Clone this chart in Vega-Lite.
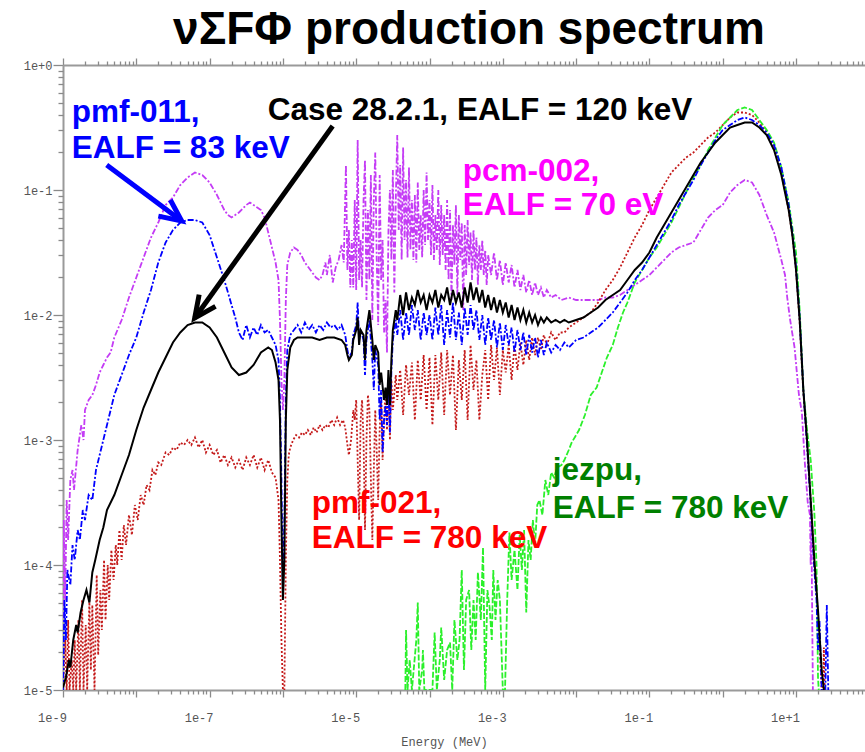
{
  "$schema": "https://vega.github.io/schema/vega-lite/v6.json",
  "width": 802,
  "height": 625,
  "autosize": {"type": "none"},
  "padding": {"left": 63, "top": 65, "right": 0, "bottom": 62},
  "background": "white",
  "title": {"text": "νΣFΦ production spectrum", "font": "Liberation Sans", "fontSize": 46, "fontWeight": "bold", "color": "#000000", "anchor": "middle", "offset": 3, "dx": 5},
  "config": {
    "view": {"stroke": null},
    "axis": {"grid": false, "domainColor": "#9a9a9a", "domainWidth": 2, "tickColor": "#8a8a8a", "tickWidth": 1.3, "labelFont": "Liberation Mono", "labelFontSize": 12, "labelColor": "#555555", "labelOverlap": false, "labelFlush": false}
  },
  "datasets": {
    "case2821": [
      {"E":1e-9,"v":1.047e-5},{"E":1.096e-9,"v":1.259e-5},{"E":1.202e-9,"v":1.738e-5},{"E":1.259e-9,"v":1.514e-5},{"E":1.380e-9,"v":2.512e-5},{"E":1.514e-9,"v":3.311e-5},{"E":1.585e-9,"v":2.884e-5},{"E":1.738e-9,"v":4.169e-5},{"E":1.905e-9,"v":5.248e-5},{"E":2.089e-9,"v":6.310e-5},{"E":2.291e-9,"v":5.012e-5},{"E":2.512e-9,"v":8.710e-5},{"E":2.754e-9,"v":1.096e-4},{"E":3.162e-9,"v":1.585e-4},{"E":3.548e-9,"v":1.995e-4},{"E":3.981e-9,"v":2.754e-4},{"E":5.012e-9,"v":3.631e-4},{"E":6.310e-9,"v":5.248e-4},{"E":7.943e-9,"v":7.586e-4},
      {"E":1e-8,"v":1.202e-3},{"E":1.259e-8,"v":1.820e-3},{"E":1.585e-8,"v":2.512e-3},{"E":1.995e-8,"v":3.467e-3},{"E":2.512e-8,"v":4.571e-3},{"E":3.162e-8,"v":6.026e-3},{"E":3.981e-8,"v":7.244e-3},{"E":5.012e-8,"v":8.318e-3},{"E":6.310e-8,"v":8.710e-3},{"E":7.943e-8,"v":8.710e-3},
      {"E":1e-7,"v":7.943e-3},{"E":1.259e-7,"v":6.607e-3},{"E":1.585e-7,"v":5.012e-3},{"E":1.995e-7,"v":3.802e-3},{"E":2.512e-7,"v":3.311e-3},{"E":3.162e-7,"v":3.467e-3},{"E":3.981e-7,"v":3.981e-3},{"E":5.012e-7,"v":5.012e-3},{"E":6.310e-7,"v":5.495e-3},{"E":7.079e-7,"v":5.248e-3},{"E":7.943e-7,"v":4.169e-3},{"E":8.710e-7,"v":3.020e-3},{"E":9.120e-7,"v":1.445e-3},{"E":9.550e-7,"v":2.291e-4},
      {"E":1e-6,"v":5.248e-5},{"E":1.047e-6,"v":1.096e-4},{"E":1.096e-6,"v":1.445e-3},{"E":1.148e-6,"v":3.631e-3},{"E":1.259e-6,"v":5.495e-3},{"E":1.413e-6,"v":6.310e-3},{"E":1.585e-6,"v":6.607e-3},{"E":1.995e-6,"v":6.607e-3},{"E":2.512e-6,"v":6.607e-3},{"E":3.162e-6,"v":6.310e-3},{"E":3.981e-6,"v":6.607e-3},{"E":5.012e-6,"v":6.607e-3},{"E":6.310e-6,"v":6.310e-3},{"E":7.079e-6,"v":5.754e-3},{"E":7.586e-6,"v":4.786e-3},{"E":7.943e-6,"v":4.365e-3},{"E":8.710e-6,"v":4.786e-3},{"E":9.120e-6,"v":6.310e-3},
      {"E":1e-5,"v":7.586e-3},{"E":1.047e-5,"v":9.550e-3},{"E":1.096e-5,"v":5.754e-3},{"E":1.148e-5,"v":7.586e-3},{"E":1.259e-5,"v":6.918e-3},{"E":1.318e-5,"v":4.365e-3},{"E":1.380e-5,"v":7.586e-3},{"E":1.514e-5,"v":1.096e-2},{"E":1.660e-5,"v":6.310e-3},{"E":1.738e-5,"v":4.365e-3},{"E":1.820e-5,"v":5.754e-3},{"E":1.995e-5,"v":5.012e-3},{"E":2.089e-5,"v":2.754e-3},{"E":2.188e-5,"v":3.467e-3},{"E":2.399e-5,"v":2.089e-3},{"E":2.512e-5,"v":2.630e-3},{"E":2.630e-5,"v":1.905e-3},{"E":2.754e-5,"v":3.631e-3},{"E":2.884e-5,"v":1.905e-3},{"E":3.020e-5,"v":4.365e-3},{"E":3.162e-5,"v":7.586e-3},{"E":3.467e-5,"v":1.096e-2},{"E":3.631e-5,"v":9.120e-3},{"E":3.981e-5,"v":1.445e-2},{"E":4.365e-5,"v":1e-2},{"E":4.786e-5,"v":1.514e-2},{"E":5.248e-5,"v":1.096e-2},{"E":5.754e-5,"v":1.380e-2},{"E":6.310e-5,"v":1.202e-2},{"E":6.918e-5,"v":1.585e-2},{"E":7.586e-5,"v":1.259e-2},{"E":8.318e-5,"v":1.445e-2},{"E":9.120e-5,"v":1.096e-2},
      {"E":1e-4,"v":1.445e-2},{"E":1.096e-4,"v":1.259e-2},{"E":1.202e-4,"v":1.585e-2},{"E":1.318e-4,"v":1.148e-2},{"E":1.445e-4,"v":1.445e-2},{"E":1.585e-4,"v":1.318e-2},{"E":1.738e-4,"v":1.660e-2},{"E":1.905e-4,"v":1.202e-2},{"E":2.089e-4,"v":1.585e-2},{"E":2.291e-4,"v":1.259e-2},{"E":2.512e-4,"v":1.514e-2},{"E":2.754e-4,"v":1.148e-2},{"E":3.020e-4,"v":1.660e-2},{"E":3.311e-4,"v":1.259e-2},{"E":3.631e-4,"v":1.820e-2},{"E":3.981e-4,"v":1.318e-2},{"E":4.365e-4,"v":1.660e-2},{"E":4.786e-4,"v":1.259e-2},{"E":5.248e-4,"v":1.585e-2},{"E":5.754e-4,"v":1.148e-2},{"E":6.310e-4,"v":1.445e-2},{"E":6.918e-4,"v":1.096e-2},{"E":7.586e-4,"v":1.380e-2},{"E":8.318e-4,"v":1.047e-2},{"E":9.120e-4,"v":1.318e-2},
      {"E":1e-3,"v":1.047e-2},{"E":1.096e-3,"v":1.259e-2},{"E":1.202e-3,"v":9.550e-3},{"E":1.318e-3,"v":1.202e-2},{"E":1.445e-3,"v":9.120e-3},{"E":1.585e-3,"v":1.148e-2},{"E":1.738e-3,"v":9.120e-3},{"E":1.905e-3,"v":1.096e-2},{"E":2.089e-3,"v":8.710e-3},{"E":2.291e-3,"v":1.047e-2},{"E":2.512e-3,"v":8.710e-3},{"E":2.754e-3,"v":1e-2},{"E":3.020e-3,"v":8.318e-3},{"E":3.311e-3,"v":9.550e-3},{"E":3.631e-3,"v":8.710e-3},{"E":3.981e-3,"v":9.550e-3},{"E":4.571e-3,"v":8.710e-3},{"E":5.248e-3,"v":9.120e-3},{"E":6.026e-3,"v":8.710e-3},{"E":6.918e-3,"v":9.120e-3},{"E":7.943e-3,"v":8.710e-3},
      {"E":1e-2,"v":9.120e-3},{"E":1.259e-2,"v":9.550e-3},{"E":1.585e-2,"v":1.047e-2},{"E":1.995e-2,"v":1.148e-2},{"E":2.512e-2,"v":1.318e-2},{"E":3.162e-2,"v":1.445e-2},{"E":3.981e-2,"v":1.585e-2},{"E":5.012e-2,"v":1.905e-2},{"E":6.310e-2,"v":2.291e-2},{"E":7.943e-2,"v":2.630e-2},
      {"E":0.1,"v":3.162e-2},{"E":0.1259,"v":4.169e-2},{"E":0.1585,"v":5.248e-2},{"E":0.1995,"v":6.607e-2},{"E":0.2512,"v":8.318e-2},{"E":0.3162,"v":0.1047},{"E":0.3981,"v":0.1318},{"E":0.5012,"v":0.166},{"E":0.631,"v":0.1995},{"E":0.7943,"v":0.2399},
      {"E":1,"v":0.2754},{"E":1.259,"v":0.3162},{"E":1.585,"v":0.3311},{"E":1.995,"v":0.3467},{"E":2.512,"v":0.3467},{"E":3.162,"v":0.3162},{"E":3.981,"v":0.2754},{"E":5.012,"v":0.2089},{"E":6.31,"v":0.1318},{"E":7.943,"v":0.06918},{"E":8.913,"v":0.04365},
      {"E":10,"v":0.02291},{"E":11.22,"v":0.00912},{"E":12.59,"v":0.002512},{"E":14.13,"v":0.001},{"E":15.85,"v":0.0003311},{"E":17.78,"v":0.0001096},{"E":19.95,"v":4.365e-5},{"E":22.39,"v":1.445e-5},{"E":23.99,"v":1e-5}
    ],
    "pmf011": [
      {"E":1e-9,"v":1e-5},{"E":1.047e-9,"v":5.248e-5},{"E":1.096e-9,"v":2.512e-5},{"E":1.148e-9,"v":9.120e-5},{"E":1.259e-9,"v":6.918e-5},{"E":1.349e-9,"v":1.445e-4},{"E":1.445e-9,"v":1.096e-4},{"E":1.585e-9,"v":1.905e-4},{"E":1.698e-9,"v":1.585e-4},{"E":1.862e-9,"v":2.754e-4},{"E":1.995e-9,"v":2.291e-4},{"E":2.239e-9,"v":3.631e-4},{"E":2.512e-9,"v":3.311e-4},{"E":2.818e-9,"v":5.754e-4},{"E":3.162e-9,"v":7.586e-4},{"E":3.548e-9,"v":1e-3},{"E":3.981e-9,"v":1.318e-3},{"E":4.467e-9,"v":1.738e-3},{"E":5.012e-9,"v":2.291e-3},{"E":5.623e-9,"v":2.754e-3},{"E":6.310e-9,"v":3.311e-3},{"E":7.943e-9,"v":4.786e-3},
      {"E":1e-8,"v":6.607e-3},{"E":1.259e-8,"v":1.047e-2},{"E":1.585e-8,"v":1.585e-2},{"E":1.995e-8,"v":2.630e-2},{"E":2.512e-8,"v":3.802e-2},{"E":3.162e-8,"v":4.786e-2},{"E":3.981e-8,"v":5.495e-2},{"E":5.012e-8,"v":5.754e-2},{"E":6.310e-8,"v":5.754e-2},{"E":7.943e-8,"v":5.495e-2},
      {"E":1e-7,"v":4.365e-2},{"E":1.259e-7,"v":2.884e-2},{"E":1.585e-7,"v":1.905e-2},{"E":1.995e-7,"v":1.202e-2},{"E":2.239e-7,"v":9.550e-3},{"E":2.512e-7,"v":7.244e-3},{"E":2.818e-7,"v":6.310e-3},{"E":3.162e-7,"v":8.318e-3},{"E":3.548e-7,"v":6.607e-3},{"E":3.981e-7,"v":7.943e-3},{"E":4.467e-7,"v":6.918e-3},{"E":5.012e-7,"v":8.318e-3},{"E":5.623e-7,"v":7.244e-3},{"E":6.310e-7,"v":7.586e-3},{"E":7.079e-7,"v":6.607e-3},{"E":7.943e-7,"v":5.754e-3},{"E":8.710e-7,"v":4.365e-3},{"E":9.120e-7,"v":2.089e-3},{"E":9.550e-7,"v":4.786e-4},
      {"E":1e-6,"v":6.310e-5},{"E":1.047e-6,"v":2.291e-4},{"E":1.096e-6,"v":2.089e-3},{"E":1.148e-6,"v":5.248e-3},{"E":1.259e-6,"v":6.918e-3},{"E":1.413e-6,"v":7.586e-3},{"E":1.585e-6,"v":8.318e-3},{"E":1.778e-6,"v":7.244e-3},{"E":1.995e-6,"v":8.710e-3},{"E":2.239e-6,"v":7.586e-3},{"E":2.512e-6,"v":8.318e-3},{"E":2.818e-6,"v":7.244e-3},{"E":3.162e-6,"v":8.318e-3},{"E":3.548e-6,"v":7.586e-3},{"E":3.981e-6,"v":8.710e-3},{"E":4.467e-6,"v":7.943e-3},{"E":5.012e-6,"v":8.318e-3},{"E":5.623e-6,"v":7.586e-3},{"E":6.310e-6,"v":8.318e-3},{"E":7.079e-6,"v":6.918e-3},{"E":7.586e-6,"v":5.248e-3},{"E":7.943e-6,"v":4.571e-3},{"E":8.710e-6,"v":5.012e-3},{"E":9.120e-6,"v":6.918e-3},
      {"E":1e-5,"v":8.318e-3},{"E":1.047e-5,"v":1.259e-2},{"E":1.096e-5,"v":6.310e-3},{"E":1.148e-5,"v":7.586e-3},{"E":1.259e-5,"v":6.310e-3},{"E":1.318e-5,"v":3.311e-3},{"E":1.380e-5,"v":6.310e-3},{"E":1.514e-5,"v":9.120e-3},{"E":1.660e-5,"v":4.365e-3},{"E":1.738e-5,"v":2.512e-3},{"E":1.820e-5,"v":5.248e-3},{"E":1.995e-5,"v":3.981e-3},{"E":2.089e-5,"v":1.445e-3},{"E":2.188e-5,"v":2.512e-3},{"E":2.291e-5,"v":7.943e-4},{"E":2.399e-5,"v":1.445e-3},{"E":2.512e-5,"v":1.905e-3},{"E":2.630e-5,"v":1.318e-3},{"E":2.754e-5,"v":3.020e-3},{"E":2.884e-5,"v":1.148e-3},{"E":3.020e-5,"v":3.631e-3},{"E":3.162e-5,"v":6.310e-3},{"E":3.467e-5,"v":9.120e-3},{"E":3.631e-5,"v":6.918e-3},{"E":3.981e-5,"v":1.096e-2},{"E":4.365e-5,"v":6.310e-3},{"E":4.786e-5,"v":1.047e-2},{"E":5.248e-5,"v":6.918e-3},{"E":5.754e-5,"v":1.202e-2},{"E":6.310e-5,"v":7.586e-3},{"E":6.918e-5,"v":1.096e-2},{"E":7.586e-5,"v":6.310e-3},{"E":8.318e-5,"v":1.047e-2},{"E":9.120e-5,"v":6.918e-3},
      {"E":1e-4,"v":1e-2},{"E":1.096e-4,"v":6.310e-3},{"E":1.202e-4,"v":1.148e-2},{"E":1.318e-4,"v":6.918e-3},{"E":1.445e-4,"v":1.202e-2},{"E":1.585e-4,"v":5.754e-3},{"E":1.738e-4,"v":1.096e-2},{"E":1.905e-4,"v":6.607e-3},{"E":2.089e-4,"v":1.259e-2},{"E":2.291e-4,"v":6.310e-3},{"E":2.512e-4,"v":1.047e-2},{"E":2.754e-4,"v":5.754e-3},{"E":3.020e-4,"v":1.148e-2},{"E":3.311e-4,"v":6.918e-3},{"E":3.631e-4,"v":1.202e-2},{"E":3.981e-4,"v":7.586e-3},{"E":4.365e-4,"v":1.096e-2},{"E":4.786e-4,"v":6.310e-3},{"E":5.248e-4,"v":1e-2},{"E":5.754e-4,"v":5.754e-3},{"E":6.310e-4,"v":9.550e-3},{"E":6.918e-4,"v":6.310e-3},{"E":7.586e-4,"v":9.120e-3},{"E":8.318e-4,"v":5.495e-3},{"E":9.120e-4,"v":8.710e-3},
      {"E":1e-3,"v":5.248e-3},{"E":1.096e-3,"v":8.318e-3},{"E":1.202e-3,"v":5.754e-3},{"E":1.318e-3,"v":7.943e-3},{"E":1.445e-3,"v":5.012e-3},{"E":1.585e-3,"v":7.586e-3},{"E":1.738e-3,"v":5.248e-3},{"E":1.905e-3,"v":7.244e-3},{"E":2.089e-3,"v":4.786e-3},{"E":2.291e-3,"v":6.918e-3},{"E":2.512e-3,"v":5.012e-3},{"E":2.754e-3,"v":6.607e-3},{"E":3.020e-3,"v":4.571e-3},{"E":3.311e-3,"v":6.310e-3},{"E":3.631e-3,"v":4.786e-3},{"E":3.981e-3,"v":6.026e-3},{"E":4.571e-3,"v":5.012e-3},{"E":5.248e-3,"v":5.754e-3},{"E":6.026e-3,"v":5.248e-3},{"E":6.918e-3,"v":6.026e-3},{"E":7.943e-3,"v":5.495e-3},
      {"E":1e-2,"v":6.310e-3},{"E":1.259e-2,"v":6.607e-3},{"E":1.585e-2,"v":7.244e-3},{"E":1.995e-2,"v":7.943e-3},{"E":2.512e-2,"v":9.120e-3},{"E":3.162e-2,"v":1.047e-2},{"E":3.981e-2,"v":1.259e-2},{"E":5.012e-2,"v":1.514e-2},{"E":6.310e-2,"v":1.905e-2},{"E":7.943e-2,"v":2.291e-2},
      {"E":0.1,"v":2.884e-2},{"E":0.1259,"v":3.631e-2},{"E":0.1585,"v":4.571e-2},{"E":0.1995,"v":5.754e-2},{"E":0.2512,"v":7.586e-2},{"E":0.3162,"v":9.550e-2},{"E":0.3981,"v":0.1202},{"E":0.5012,"v":0.1585},{"E":0.631,"v":0.1995},{"E":0.7943,"v":0.2512},
      {"E":1,"v":0.302},{"E":1.259,"v":0.3311},{"E":1.585,"v":0.3631},{"E":1.995,"v":0.3802},{"E":2.512,"v":0.3631},{"E":3.162,"v":0.3311},{"E":3.981,"v":0.2884},{"E":5.012,"v":0.2291},{"E":6.31,"v":0.1514},{"E":7.943,"v":0.07586},{"E":8.913,"v":0.04571},
      {"E":10,"v":0.02399},{"E":11.22,"v":0.00955},{"E":12.59,"v":0.002512},{"E":14.13,"v":0.000912},{"E":15.85,"v":0.000302},{"E":17.78,"v":9.12e-5},{"E":19.05,"v":5.248e-5},{"E":19.95,"v":2.089e-5},{"E":20.89,"v":3.631e-5},{"E":22.39,"v":1e-5},{"E":25.12,"v":1e-5},{"E":26.30,"v":4.786e-5},{"E":27.54,"v":1e-5}
    ],
    "pcm002": [
      {"E":1e-9,"v":1e-5},{"E":1.023e-9,"v":2.291e-4},{"E":1.072e-9,"v":5.248e-5},{"E":1.122e-9,"v":3.311e-4},{"E":1.175e-9,"v":1.585e-4},{"E":1.259e-9,"v":4.786e-4},{"E":1.349e-9,"v":5.754e-4},{"E":1.413e-9,"v":3.981e-4},{"E":1.585e-9,"v":8.318e-4},{"E":1.778e-9,"v":1.318e-3},{"E":1.905e-9,"v":1e-3},{"E":1.995e-9,"v":1.738e-3},{"E":2.239e-9,"v":2.089e-3},{"E":2.512e-9,"v":2.291e-3},{"E":2.818e-9,"v":2.754e-3},{"E":3.162e-9,"v":3.467e-3},{"E":3.548e-9,"v":3.981e-3},{"E":3.981e-9,"v":4.571e-3},{"E":4.467e-9,"v":5.012e-3},{"E":5.012e-9,"v":6.607e-3},{"E":6.310e-9,"v":9.120e-3},{"E":7.943e-9,"v":1.380e-2},
      {"E":1e-8,"v":1.995e-2},{"E":1.259e-8,"v":2.884e-2},{"E":1.585e-8,"v":4.169e-2},{"E":1.995e-8,"v":5.495e-2},{"E":2.512e-8,"v":7.586e-2},{"E":3.162e-8,"v":8.710e-2},{"E":3.981e-8,"v":0.1096},{"E":5.012e-8,"v":0.1259},{"E":6.310e-8,"v":0.138},{"E":7.943e-8,"v":0.1318},
      {"E":1e-7,"v":0.1148},{"E":1.259e-7,"v":0.0912},{"E":1.585e-7,"v":0.06918},{"E":1.778e-7,"v":0.0631},{"E":1.995e-7,"v":0.06026},{"E":2.512e-7,"v":0.06607},{"E":3.162e-7,"v":0.07586},{"E":3.548e-7,"v":0.07943},{"E":3.981e-7,"v":0.07586},{"E":4.467e-7,"v":0.07244},{"E":5.012e-7,"v":0.06918},{"E":5.623e-7,"v":0.06026},{"E":6.310e-7,"v":0.04571},{"E":7.079e-7,"v":0.03467},{"E":7.943e-7,"v":0.0263},{"E":8.710e-7,"v":0.01905},{"E":9.120e-7,"v":0.00912},{"E":9.550e-7,"v":0.00302},
      {"E":1e-6,"v":0.001738},{"E":1.047e-6,"v":0.00302},{"E":1.096e-6,"v":0.01318},{"E":1.148e-6,"v":0.02512},{"E":1.259e-6,"v":0.03162},{"E":1.413e-6,"v":0.03467},{"E":1.585e-6,"v":0.03311},{"E":1.778e-6,"v":0.0302},{"E":1.995e-6,"v":0.0263},{"E":2.239e-6,"v":0.02399},{"E":2.512e-6,"v":0.02188},{"E":2.818e-6,"v":0.01995},{"E":3.162e-6,"v":0.01905},{"E":3.467e-6,"v":0.02089},{"E":3.802e-6,"v":0.0263},{"E":3.981e-6,"v":0.02089},{"E":4.365e-6,"v":0.0302},{"E":4.786e-6,"v":0.0182},{"E":5.248e-6,"v":0.02399},{"E":5.754e-6,"v":0.02754},{"E":6.310e-6,"v":0.03631},{"E":6.761e-6,"v":0.0263},{"E":7.244e-6,"v":0.1585},{"E":7.586e-6,"v":0.02291},{"E":7.943e-6,"v":0.04786},{"E":8.318e-6,"v":0.0166},{"E":8.710e-6,"v":0.03981},{"E":9.120e-6,"v":0.0166},{"E":9.550e-6,"v":0.08318},
      {"E":1e-5,"v":0.01585},{"E":1.047e-5,"v":0.2512},{"E":1.096e-5,"v":0.01905},{"E":1.148e-5,"v":0.03981},{"E":1.202e-5,"v":0.0166},{"E":1.259e-5,"v":0.08318},{"E":1.318e-5,"v":0.1738},{"E":1.380e-5,"v":0.01318},{"E":1.445e-5,"v":0.06918},{"E":1.514e-5,"v":0.01905},{"E":1.585e-5,"v":0.1318},{"E":1.660e-5,"v":0.00912},{"E":1.738e-5,"v":0.08318},{"E":1.820e-5,"v":0.1995},{"E":1.905e-5,"v":0.02754},{"E":1.995e-5,"v":0.008318},{"E":2.089e-5,"v":0.1318},{"E":2.188e-5,"v":0.01905},{"E":2.291e-5,"v":0.03981},{"E":2.399e-5,"v":0.007244},{"E":2.512e-5,"v":0.01318},{"E":2.630e-5,"v":0.005012},{"E":2.754e-5,"v":0.04786},{"E":2.884e-5,"v":0.1},{"E":3.020e-5,"v":0.02754},{"E":3.162e-5,"v":0.1445},{"E":3.311e-5,"v":0.01514},{"E":3.467e-5,"v":0.08318},{"E":3.631e-5,"v":0.2754},{"E":3.802e-5,"v":0.04786},{"E":3.981e-5,"v":0.1585},{"E":4.169e-5,"v":0.02754},{"E":4.365e-5,"v":0.2188},{"E":4.571e-5,"v":0.03981},{"E":4.786e-5,"v":0.1202},{"E":5.012e-5,"v":0.02884},{"E":5.248e-5,"v":0.1514},{"E":5.495e-5,"v":0.03311},{"E":5.754e-5,"v":0.08318},{"E":6.026e-5,"v":0.02754},{"E":6.310e-5,"v":0.0912},{"E":6.607e-5,"v":0.0263},{"E":6.918e-5,"v":0.1148},{"E":7.244e-5,"v":0.03311},{"E":7.586e-5,"v":0.0631},{"E":7.943e-5,"v":0.02884},{"E":8.318e-5,"v":0.1},{"E":8.710e-5,"v":0.03631},{"E":9.120e-5,"v":0.138},{"E":9.550e-5,"v":0.03981},
      {"E":1e-4,"v":0.08318},{"E":1.047e-4,"v":0.0302},{"E":1.096e-4,"v":0.1096},{"E":1.148e-4,"v":0.02754},{"E":1.202e-4,"v":0.0631},{"E":1.259e-4,"v":0.03311},{"E":1.318e-4,"v":0.1},{"E":1.380e-4,"v":0.02512},{"E":1.445e-4,"v":0.07586},{"E":1.514e-4,"v":0.0302},{"E":1.585e-4,"v":0.0631},{"E":1.660e-4,"v":0.02291},{"E":1.738e-4,"v":0.08318},{"E":1.820e-4,"v":0.01905},{"E":1.905e-4,"v":0.06918},{"E":1.995e-4,"v":0.01318},{"E":2.089e-4,"v":0.05248},{"E":2.188e-4,"v":0.02512},{"E":2.291e-4,"v":0.07586},{"E":2.399e-4,"v":0.01445},{"E":2.512e-4,"v":0.0631},{"E":2.630e-4,"v":0.02754},{"E":2.754e-4,"v":0.05495},{"E":2.884e-4,"v":0.01096},{"E":3.020e-4,"v":0.05248},{"E":3.162e-4,"v":0.02089},{"E":3.311e-4,"v":0.05754},{"E":3.467e-4,"v":0.02512},{"E":3.631e-4,"v":0.04571},{"E":3.802e-4,"v":0.01905},{"E":3.981e-4,"v":0.04786},{"E":4.169e-4,"v":0.02291},{"E":4.365e-4,"v":0.04169},{"E":4.571e-4,"v":0.01738},{"E":4.786e-4,"v":0.03631},{"E":5.012e-4,"v":0.02291},{"E":5.248e-4,"v":0.03981},{"E":5.495e-4,"v":0.02089},{"E":5.754e-4,"v":0.03311},{"E":6.026e-4,"v":0.01738},{"E":6.310e-4,"v":0.0302},{"E":6.918e-4,"v":0.02089},{"E":7.586e-4,"v":0.03162},{"E":8.318e-4,"v":0.01905},{"E":9.120e-4,"v":0.02754},
      {"E":1e-3,"v":0.01738},{"E":1.096e-3,"v":0.0263},{"E":1.202e-3,"v":0.0182},{"E":1.318e-3,"v":0.02512},{"E":1.445e-3,"v":0.0166},{"E":1.585e-3,"v":0.02291},{"E":1.738e-3,"v":0.01585},{"E":1.905e-3,"v":0.02089},{"E":2.089e-3,"v":0.01514},{"E":2.291e-3,"v":0.01905},{"E":2.512e-3,"v":0.01445},{"E":2.754e-3,"v":0.0182},{"E":3.020e-3,"v":0.01445},{"E":3.311e-3,"v":0.0166},{"E":3.631e-3,"v":0.0138},{"E":3.981e-3,"v":0.01585},{"E":4.571e-3,"v":0.0138},{"E":5.248e-3,"v":0.01445},{"E":6.310e-3,"v":0.01318},{"E":7.943e-3,"v":0.0138},
      {"E":1e-2,"v":0.01318},{"E":1.259e-2,"v":0.01318},{"E":1.585e-2,"v":0.01318},{"E":1.995e-2,"v":0.01318},{"E":2.512e-2,"v":0.0138},{"E":3.162e-2,"v":0.0138},{"E":3.981e-2,"v":0.01445},{"E":5.012e-2,"v":0.01585},{"E":6.310e-2,"v":0.01738},{"E":7.943e-2,"v":0.01905},
      {"E":0.1,"v":0.02089},{"E":0.1259,"v":0.02399},{"E":0.1585,"v":0.02754},{"E":0.1995,"v":0.03162},{"E":0.2512,"v":0.03467},{"E":0.3162,"v":0.03631},{"E":0.3981,"v":0.03802},{"E":0.5012,"v":0.04786},{"E":0.631,"v":0.06026},{"E":0.7943,"v":0.06918},
      {"E":1,"v":0.07586},{"E":1.259,"v":0.0955},{"E":1.585,"v":0.1096},{"E":1.995,"v":0.1202},{"E":2.512,"v":0.1148},{"E":3.162,"v":0.0912},{"E":3.981,"v":0.0631},{"E":5.012,"v":0.04571},{"E":6.31,"v":0.02754},{"E":7.079,"v":0.02089},{"E":7.586,"v":0.0138},{"E":8.318,"v":0.00912},{"E":9.550,"v":0.005495},
      {"E":10.96,"v":0.002291},{"E":12.02,"v":0.00166},{"E":13.18,"v":0.0006607},{"E":14.45,"v":0.0003162},{"E":15.49,"v":0.0002512},{"E":15.85,"v":0.0001},{"E":16.22,"v":0.0001995},{"E":16.98,"v":1e-5}
    ],
    "pmf021": [
      {"E":1e-9,"v":1e-5},{"E":1.072e-9,"v":2.512e-5},{"E":1.122e-9,"v":1e-5},{"E":1.175e-9,"v":3.631e-5},{"E":1.230e-9,"v":1e-5},{"E":1.318e-9,"v":1.738e-5},{"E":1.380e-9,"v":1e-5},{"E":1.445e-9,"v":2.512e-5},{"E":1.514e-9,"v":1e-5},{"E":1.622e-9,"v":3.631e-5},{"E":1.698e-9,"v":1e-5},{"E":1.820e-9,"v":5.248e-5},{"E":1.905e-9,"v":1e-5},{"E":2.042e-9,"v":3.311e-5},{"E":2.138e-9,"v":1e-5},{"E":2.291e-9,"v":5.248e-5},{"E":2.399e-9,"v":1.445e-5},{"E":2.512e-9,"v":4.786e-5},{"E":2.692e-9,"v":1e-5},{"E":2.884e-9,"v":8.318e-5},{"E":3.020e-9,"v":1.905e-5},{"E":3.236e-9,"v":6.310e-5},{"E":3.388e-9,"v":3.020e-5},{"E":3.631e-9,"v":1.096e-4},{"E":3.802e-9,"v":3.631e-5},{"E":4.074e-9,"v":1e-4},{"E":4.266e-9,"v":5.248e-5},{"E":4.571e-9,"v":1.318e-4},{"E":4.898e-9,"v":7.586e-5},{"E":5.248e-9,"v":1.445e-4},{"E":5.495e-9,"v":1e-4},{"E":5.888e-9,"v":1.905e-4},{"E":6.310e-9,"v":1.096e-4},{"E":6.761e-9,"v":2.089e-4},{"E":7.244e-9,"v":1.445e-4},{"E":7.943e-9,"v":2.512e-4},{"E":8.710e-9,"v":1.738e-4},{"E":9.550e-9,"v":3.020e-4},
      {"E":1.047e-8,"v":2.291e-4},{"E":1.148e-8,"v":3.631e-4},{"E":1.259e-8,"v":3.020e-4},{"E":1.380e-8,"v":4.365e-4},{"E":1.514e-8,"v":3.981e-4},{"E":1.660e-8,"v":5.754e-4},{"E":1.820e-8,"v":5.248e-4},{"E":1.995e-8,"v":6.607e-4},{"E":2.188e-8,"v":6.310e-4},{"E":2.512e-8,"v":7.943e-4},{"E":2.818e-8,"v":7.586e-4},{"E":3.162e-8,"v":8.710e-4},{"E":3.548e-8,"v":8.318e-4},{"E":3.981e-8,"v":9.550e-4},{"E":4.467e-8,"v":9.120e-4},{"E":5.012e-8,"v":1e-3},{"E":5.623e-8,"v":9.120e-4},{"E":6.310e-8,"v":1.047e-3},{"E":7.079e-8,"v":8.710e-4},{"E":7.943e-8,"v":1e-3},{"E":8.913e-8,"v":7.943e-4},
      {"E":1e-7,"v":9.120e-4},{"E":1.122e-7,"v":7.586e-4},{"E":1.259e-7,"v":8.318e-4},{"E":1.413e-7,"v":6.607e-4},{"E":1.585e-7,"v":7.586e-4},{"E":1.778e-7,"v":6.310e-4},{"E":1.995e-7,"v":7.244e-4},{"E":2.239e-7,"v":6.026e-4},{"E":2.512e-7,"v":6.918e-4},{"E":2.818e-7,"v":5.754e-4},{"E":3.162e-7,"v":7.244e-4},{"E":3.548e-7,"v":6.310e-4},{"E":3.981e-7,"v":7.586e-4},{"E":4.467e-7,"v":6.026e-4},{"E":5.012e-7,"v":7.244e-4},{"E":5.623e-7,"v":5.754e-4},{"E":6.310e-7,"v":6.918e-4},{"E":7.079e-7,"v":5.495e-4},{"E":7.943e-7,"v":5.012e-4},{"E":8.710e-7,"v":3.311e-4},{"E":9.120e-7,"v":1.096e-4},{"E":9.550e-7,"v":2.512e-5},
      {"E":1e-6,"v":1e-5},{"E":1.047e-6,"v":1e-5},{"E":1.096e-6,"v":1.096e-4},{"E":1.148e-6,"v":4.786e-4},{"E":1.202e-6,"v":7.586e-4},{"E":1.259e-6,"v":8.710e-4},{"E":1.380e-6,"v":1e-3},{"E":1.514e-6,"v":1.096e-3},{"E":1.660e-6,"v":1.047e-3},{"E":1.820e-6,"v":1.148e-3},{"E":1.995e-6,"v":1.096e-3},{"E":2.188e-6,"v":1.202e-3},{"E":2.399e-6,"v":1.096e-3},{"E":2.630e-6,"v":1.259e-3},{"E":2.884e-6,"v":1.148e-3},{"E":3.162e-6,"v":1.318e-3},{"E":3.467e-6,"v":1.202e-3},{"E":3.802e-6,"v":1.318e-3},{"E":4.169e-6,"v":1.259e-3},{"E":4.571e-6,"v":1.445e-3},{"E":5.012e-6,"v":1.318e-3},{"E":5.495e-6,"v":1.514e-3},{"E":6.026e-6,"v":1.318e-3},{"E":6.607e-6,"v":1.445e-3},{"E":7.079e-6,"v":1.259e-3},{"E":7.586e-6,"v":9.120e-4},{"E":7.943e-6,"v":7.586e-4},{"E":8.511e-6,"v":1e-3},{"E":9.120e-6,"v":1.738e-3},{"E":9.550e-6,"v":1.445e-3},
      {"E":1e-5,"v":2.089e-3},{"E":1.047e-5,"v":6.918e-4},{"E":1.096e-5,"v":2.291e-4},{"E":1.148e-5,"v":1.445e-3},{"E":1.202e-5,"v":2.089e-3},{"E":1.259e-5,"v":1e-3},{"E":1.318e-5,"v":1.905e-4},{"E":1.380e-5,"v":1e-3},{"E":1.445e-5,"v":2.291e-3},{"E":1.514e-5,"v":1.738e-3},{"E":1.585e-5,"v":4.786e-4},{"E":1.660e-5,"v":1.585e-4},{"E":1.738e-5,"v":5.754e-4},{"E":1.820e-5,"v":1.738e-3},{"E":1.905e-5,"v":7.943e-4},{"E":1.995e-5,"v":3.311e-4},{"E":2.089e-5,"v":1.202e-3},{"E":2.188e-5,"v":2.089e-3},{"E":2.291e-5,"v":6.918e-4},{"E":2.399e-5,"v":1.445e-3},{"E":2.512e-5,"v":2.512e-3},{"E":2.630e-5,"v":1.202e-3},{"E":2.754e-5,"v":2.754e-3},{"E":2.884e-5,"v":1e-3},{"E":3.020e-5,"v":3.020e-3},{"E":3.162e-5,"v":1.738e-3},{"E":3.467e-5,"v":3.311e-3},{"E":3.631e-5,"v":2.089e-3},{"E":3.981e-5,"v":3.631e-3},{"E":4.365e-5,"v":1.585e-3},{"E":4.786e-5,"v":3.981e-3},{"E":5.248e-5,"v":2.291e-3},{"E":5.754e-5,"v":4.169e-3},{"E":6.310e-5,"v":1.445e-3},{"E":6.918e-5,"v":4.365e-3},{"E":7.586e-5,"v":2.089e-3},{"E":8.318e-5,"v":4.786e-3},{"E":9.120e-5,"v":1.738e-3},
      {"E":1e-4,"v":4.571e-3},{"E":1.096e-4,"v":1.318e-3},{"E":1.202e-4,"v":4.786e-3},{"E":1.318e-4,"v":2.089e-3},{"E":1.445e-4,"v":5.012e-3},{"E":1.585e-4,"v":1.585e-3},{"E":1.738e-4,"v":5.248e-3},{"E":1.905e-4,"v":2.291e-3},{"E":2.089e-4,"v":4.786e-3},{"E":2.291e-4,"v":1.202e-3},{"E":2.512e-4,"v":4.365e-3},{"E":2.754e-4,"v":2.089e-3},{"E":3.020e-4,"v":5.248e-3},{"E":3.311e-4,"v":1.445e-3},{"E":3.631e-4,"v":5.754e-3},{"E":3.981e-4,"v":2.512e-3},{"E":4.365e-4,"v":4.365e-3},{"E":4.786e-4,"v":1.445e-3},{"E":5.248e-4,"v":3.311e-3},{"E":5.754e-4,"v":5.248e-3},{"E":6.310e-4,"v":2.089e-3},{"E":6.918e-4,"v":5.754e-3},{"E":7.586e-4,"v":3.020e-3},{"E":8.318e-4,"v":5.495e-3},{"E":9.120e-4,"v":2.291e-3},
      {"E":1e-3,"v":5.248e-3},{"E":1.096e-3,"v":3.467e-3},{"E":1.202e-3,"v":5.754e-3},{"E":1.318e-3,"v":3.020e-3},{"E":1.445e-3,"v":5.754e-3},{"E":1.585e-3,"v":3.631e-3},{"E":1.738e-3,"v":6.026e-3},{"E":1.905e-3,"v":3.981e-3},{"E":2.089e-3,"v":6.310e-3},{"E":2.291e-3,"v":4.365e-3},{"E":2.512e-3,"v":6.607e-3},{"E":2.754e-3,"v":4.786e-3},{"E":3.020e-3,"v":6.607e-3},{"E":3.311e-3,"v":5.248e-3},{"E":3.631e-3,"v":6.918e-3},{"E":3.981e-3,"v":5.754e-3},{"E":4.571e-3,"v":7.244e-3},{"E":5.248e-3,"v":6.310e-3},{"E":6.026e-3,"v":7.244e-3},{"E":6.918e-3,"v":7.244e-3},{"E":7.943e-3,"v":7.943e-3},
      {"E":1e-2,"v":8.710e-3},{"E":1.259e-2,"v":9.550e-3},{"E":1.585e-2,"v":1.047e-2},{"E":1.995e-2,"v":1.259e-2},{"E":2.512e-2,"v":1.585e-2},{"E":3.162e-2,"v":1.905e-2},{"E":3.981e-2,"v":2.399e-2},{"E":5.012e-2,"v":3.162e-2},{"E":6.310e-2,"v":4.169e-2},{"E":7.943e-2,"v":5.248e-2},
      {"E":0.1,"v":6.918e-2},{"E":0.1259,"v":8.710e-2},{"E":0.1585,"v":0.1096},{"E":0.1995,"v":0.138},{"E":0.2512,"v":0.1585},{"E":0.3162,"v":0.182},{"E":0.3981,"v":0.1995},{"E":0.5012,"v":0.2291},{"E":0.631,"v":0.263},{"E":0.7943,"v":0.2884},
      {"E":1,"v":0.3311},{"E":1.259,"v":0.3802},{"E":1.585,"v":0.4169},{"E":1.995,"v":0.4169},{"E":2.512,"v":0.3981},{"E":3.162,"v":0.3467},{"E":3.981,"v":0.2884},{"E":5.012,"v":0.2188},{"E":6.31,"v":0.138},{"E":7.943,"v":0.06918},{"E":8.913,"v":0.04365},
      {"E":10,"v":0.02291},{"E":11.22,"v":0.00871},{"E":12.59,"v":0.002399},{"E":14.13,"v":0.000955},{"E":15.85,"v":0.0003311},{"E":17.78,"v":0.0001096},{"E":19.95,"v":3.981e-5},{"E":21.38,"v":1.738e-5},{"E":22.39,"v":1e-5},{"E":23.44,"v":1e-5},{"E":23.99,"v":2.188e-5},{"E":24.55,"v":1e-5}
    ],
    "jezpu": [
      {"E":4.677e-5,"v":1e-5},{"E":4.786e-5,"v":3.020e-5},{"E":5.012e-5,"v":1e-5},{"E":5.370e-5,"v":1.738e-5},{"E":5.754e-5,"v":1e-5},{"E":6.607e-5,"v":2.512e-5},{"E":6.918e-5,"v":5.012e-5},{"E":7.244e-5,"v":1e-5},{"E":7.943e-5,"v":1.445e-5},{"E":8.128e-5,"v":2.089e-5},{"E":8.511e-5,"v":1e-5},
      {"E":1.096e-4,"v":1e-5},{"E":1.175e-4,"v":2.884e-5},{"E":1.259e-4,"v":1e-5},{"E":1.380e-4,"v":1.738e-5},{"E":1.445e-4,"v":3.162e-5},{"E":1.585e-4,"v":1.202e-5},{"E":1.738e-4,"v":2.089e-5},{"E":1.905e-4,"v":2.399e-5},{"E":2.042e-4,"v":1e-5},{"E":2.188e-4,"v":3.631e-5},{"E":2.399e-4,"v":1.738e-5},{"E":2.570e-4,"v":2.512e-5},{"E":2.754e-4,"v":9.120e-5},{"E":2.951e-4,"v":1.445e-5},{"E":3.162e-4,"v":5.248e-5},{"E":3.467e-4,"v":6.310e-5},{"E":3.715e-4,"v":2.089e-5},{"E":3.981e-4,"v":5.248e-5},{"E":4.266e-4,"v":2.512e-5},{"E":4.571e-4,"v":8.710e-5},{"E":5.012e-4,"v":3.631e-5},{"E":5.370e-4,"v":1.380e-4},{"E":5.754e-4,"v":1e-5},{"E":6.166e-4,"v":6.310e-5},{"E":6.607e-4,"v":4.571e-5},{"E":7.079e-4,"v":2.512e-5},{"E":7.413e-4,"v":9.120e-5},{"E":7.943e-4,"v":3.631e-5},{"E":8.511e-4,"v":7.586e-5},{"E":9.120e-4,"v":5.248e-5},
      {"E":1e-3,"v":1e-5},{"E":1.072e-3,"v":1e-5},{"E":1.148e-3,"v":5.248e-5},{"E":1.230e-3,"v":1.820e-4},{"E":1.318e-3,"v":7.586e-5},{"E":1.445e-3,"v":1.318e-4},{"E":1.585e-3,"v":6.310e-5},{"E":1.698e-3,"v":1.738e-4},{"E":1.820e-3,"v":9.120e-5},{"E":1.950e-3,"v":1.905e-4},{"E":2.089e-3,"v":4.169e-5},{"E":2.239e-3,"v":1.585e-4},{"E":2.399e-3,"v":1.096e-4},{"E":2.570e-3,"v":2.291e-4},{"E":2.754e-3,"v":1.445e-4},{"E":2.951e-3,"v":3.020e-4},{"E":3.162e-3,"v":3.311e-4},{"E":3.467e-3,"v":2.512e-4},{"E":3.802e-3,"v":4.786e-4},{"E":4.169e-3,"v":3.631e-4},{"E":4.571e-3,"v":5.495e-4},{"E":5.012e-3,"v":5.012e-4},{"E":5.495e-3,"v":6.026e-4},{"E":6.310e-3,"v":6.310e-4},{"E":6.918e-3,"v":6.918e-4},{"E":7.943e-3,"v":8.318e-4},{"E":8.710e-3,"v":9.550e-4},
      {"E":1e-2,"v":1.096e-3},{"E":1.096e-2,"v":1.202e-3},{"E":1.318e-2,"v":1.585e-3},{"E":1.585e-2,"v":2.291e-3},{"E":1.905e-2,"v":2.630e-3},{"E":2.239e-2,"v":3.467e-3},{"E":2.630e-2,"v":4.571e-3},{"E":3.162e-2,"v":5.754e-3},{"E":3.715e-2,"v":7.943e-3},{"E":4.365e-2,"v":1.047e-2},{"E":5.012e-2,"v":1.259e-2},{"E":6.310e-2,"v":1.820e-2},{"E":7.943e-2,"v":2.291e-2},
      {"E":0.1,"v":2.884e-2},{"E":0.1259,"v":3.467e-2},{"E":0.1585,"v":4.365e-2},{"E":0.1995,"v":5.495e-2},{"E":0.2512,"v":7.244e-2},{"E":0.3162,"v":9.550e-2},{"E":0.3981,"v":0.1259},{"E":0.5012,"v":0.1585},{"E":0.631,"v":0.2089},{"E":0.7943,"v":0.263},
      {"E":1,"v":0.3311},{"E":1.259,"v":0.3802},{"E":1.585,"v":0.4365},{"E":1.995,"v":0.4571},{"E":2.512,"v":0.4365},{"E":3.162,"v":0.3631},{"E":3.981,"v":0.302},{"E":5.012,"v":0.2399},{"E":6.31,"v":0.1514},{"E":7.943,"v":0.07943},
      {"E":10,"v":0.03162},{"E":11.22,"v":0.01096},{"E":12.59,"v":0.002512},{"E":14.13,"v":0.001202},{"E":15.85,"v":0.0006918},{"E":17.78,"v":0.000263},{"E":19.05,"v":0.0001},{"E":19.95,"v":1.259e-5},{"E":20.42,"v":1e-5}
    ],
    "tBlue": [{"E":1.315e-9,"v":0.35,"t":"pmf-011,"},{"E":1.315e-9,"v":0.1803,"t":"EALF = 83 keV"}],
    "tBlack": [{"E":6.21e-7,"v":0.3631,"t":"Case 28.2.1, EALF = 120 keV"}],
    "tMag": [{"E":2.838e-4,"v":0.118,"t":"pcm-002,"},{"E":2.838e-4,"v":0.0631,"t":"EALF = 70 eV"}],
    "tRed": [{"E":2.47e-6,"v":2.606e-4,"t":"pmf-021,"},{"E":2.47e-6,"v":1.368e-4,"t":"EALF = 780 keV"}],
    "tGreen": [{"E":4.8e-3,"v":4.786e-4,"t":"jezpu,"},{"E":4.8e-3,"v":2.377e-4,"t":"EALF = 780 keV"}],
    "aBlue": [{"E":3.945e-9,"v":0.1585,"E2":4.16e-8,"v2":0.0565}],
    "aBlack": [{"E":4.775e-6,"v":0.325,"E2":6.266e-8,"v2":0.00946}]
  },
  "resolve": {"axis": {"x": "independent", "y": "independent"}},
  "layer": [
    {
      "data": {"name": "pcm002"},
      "mark": {"type": "line", "color": "#C43CF5", "strokeWidth": 1.8, "strokeDash": [6, 2, 2, 2], "clip": true},
      "encoding": {
        "x": {"field": "E", "type": "quantitative", "scale": {"type": "log", "domain": [1e-9, 87.3], "nice": false},
          "axis": {"orient": "bottom", "values": [1e-9, 1e-8, 1e-7, 1e-6, 1e-5, 1e-4, 1e-3, 1e-2, 1e-1, 1, 10], "tickSize": 7, "labelPadding": 15, "labelOffset": -11,
            "labelExpr": "abs(round(log(datum.value)/LN10)) % 2 == 1 ? '1e' + (datum.value >= 1 ? '+' : '-') + abs(round(log(datum.value)/LN10)) : ''",
            "title": "Energy (MeV)", "titleFont": "Liberation Mono", "titleFontSize": 12, "titleFontWeight": "normal", "titleColor": "#555555", "titleX": 381, "titleY": 51, "titleAlign": "center", "titleBaseline": "middle"}},
        "y": {"field": "v", "type": "quantitative", "scale": {"type": "log", "domain": [1e-5, 1], "nice": false},
          "axis": {"orient": "left", "values": [1e-5, 1e-4, 1e-3, 1e-2, 1e-1, 1], "tickSize": 10, "labelPadding": 1, "title": null,
            "labelExpr": "'1e' + (datum.value >= 1 ? '+' : '-') + abs(round(log(datum.value)/LN10))"}}
      }
    },
    {
      "data": {"name": "pmf021"},
      "mark": {"type": "line", "color": "#C41A1A", "strokeWidth": 1.8, "strokeDash": [2, 2], "clip": true},
      "encoding": {
        "x": {"field": "E", "type": "quantitative", "scale": {"type": "log", "domain": [1e-9, 87.3], "nice": false},
          "axis": {"orient": "bottom", "values": [2e-9,3e-9,4e-9,5e-9,6e-9,7e-9,8e-9,9e-9,2e-8,3e-8,4e-8,5e-8,6e-8,7e-8,8e-8,9e-8,2e-7,3e-7,4e-7,5e-7,6e-7,7e-7,8e-7,9e-7,2e-6,3e-6,4e-6,5e-6,6e-6,7e-6,8e-6,9e-6,2e-5,3e-5,4e-5,5e-5,6e-5,7e-5,8e-5,9e-5,2e-4,3e-4,4e-4,5e-4,6e-4,7e-4,8e-4,9e-4,0.002,0.003,0.004,0.005,0.006,0.007,0.008,0.009,0.02,0.03,0.04,0.05,0.06,0.07,0.08,0.09,0.2,0.3,0.4,0.5,0.6,0.7,0.8,0.9,2,3,4,5,6,7,8,9,20,30,40,50,60,70,80], "tickSize": 4, "labels": false, "domain": false, "title": null}},
        "y": {"field": "v", "type": "quantitative", "scale": {"type": "log", "domain": [1e-5, 1], "nice": false},
          "axis": {"orient": "left", "values": [2e-5,3e-5,4e-5,5e-5,6e-5,7e-5,8e-5,9e-5,2e-4,3e-4,4e-4,5e-4,6e-4,7e-4,8e-4,9e-4,0.002,0.003,0.004,0.005,0.006,0.007,0.008,0.009,0.02,0.03,0.04,0.05,0.06,0.07,0.08,0.09,0.2,0.3,0.4,0.5,0.6,0.7,0.8,0.9], "tickSize": 5, "labels": false, "domain": false, "title": null}}
      }
    },
    {
      "data": {"name": "jezpu"},
      "mark": {"type": "line", "color": "#2BF02B", "strokeWidth": 1.8, "strokeDash": [6, 2], "clip": true},
      "encoding": {
        "x": {"field": "E", "type": "quantitative", "scale": {"type": "log", "domain": [1e-9, 87.3], "nice": false},
          "axis": {"orient": "top", "values": [1e-9, 1e-8, 1e-7, 1e-6, 1e-5, 1e-4, 1e-3, 1e-2, 1e-1, 1, 10], "tickSize": 7, "labels": false, "title": null}},
        "y": {"field": "v", "type": "quantitative", "scale": {"type": "log", "domain": [1e-5, 1], "nice": false}, "axis": null}
      }
    },
    {
      "data": {"name": "pmf011"},
      "mark": {"type": "line", "color": "#0000FF", "strokeWidth": 1.8, "strokeDash": [6, 2, 2, 2], "clip": true},
      "encoding": {
        "x": {"field": "E", "type": "quantitative", "scale": {"type": "log", "domain": [1e-9, 87.3], "nice": false},
          "axis": {"orient": "top", "values": [2e-9,3e-9,4e-9,5e-9,6e-9,7e-9,8e-9,9e-9,2e-8,3e-8,4e-8,5e-8,6e-8,7e-8,8e-8,9e-8,2e-7,3e-7,4e-7,5e-7,6e-7,7e-7,8e-7,9e-7,2e-6,3e-6,4e-6,5e-6,6e-6,7e-6,8e-6,9e-6,2e-5,3e-5,4e-5,5e-5,6e-5,7e-5,8e-5,9e-5,2e-4,3e-4,4e-4,5e-4,6e-4,7e-4,8e-4,9e-4,0.002,0.003,0.004,0.005,0.006,0.007,0.008,0.009,0.02,0.03,0.04,0.05,0.06,0.07,0.08,0.09,0.2,0.3,0.4,0.5,0.6,0.7,0.8,0.9,2,3,4,5,6,7,8,9,20,30,40,50,60,70,80], "tickSize": 4, "labels": false, "domain": false, "title": null}},
        "y": {"field": "v", "type": "quantitative", "scale": {"type": "log", "domain": [1e-5, 1], "nice": false}, "axis": null}
      }
    },
    {
      "data": {"name": "case2821"},
      "mark": {"type": "line", "color": "#000000", "strokeWidth": 2, "clip": true},
      "encoding": {
        "x": {"field": "E", "type": "quantitative", "scale": {"type": "log", "domain": [1e-9, 87.3], "nice": false}, "axis": null},
        "y": {"field": "v", "type": "quantitative", "scale": {"type": "log", "domain": [1e-5, 1], "nice": false}, "axis": null}
      }
    },
    {
      "data": {"name": "aBlue"},
      "mark": {"type": "rule", "color": "#0000FF", "strokeWidth": 5},
      "encoding": {
        "x": {"field": "E", "type": "quantitative", "axis": null}, "y": {"field": "v", "type": "quantitative", "axis": null},
        "x2": {"field": "E2"}, "y2": {"field": "v2"}
      }
    },
    {
      "data": {"name": "aBlue"},
      "mark": {"type": "point", "shape": "M -0.42 0.9 L 0 0 L 0.42 0.9", "size": 2304, "angle": 126.7, "filled": false, "stroke": "#0000FF", "strokeWidth": 5, "opacity": 1},
      "encoding": {"x": {"field": "E2", "type": "quantitative", "axis": null}, "y": {"field": "v2", "type": "quantitative", "axis": null}}
    },
    {
      "data": {"name": "aBlack"},
      "mark": {"type": "rule", "color": "#000000", "strokeWidth": 5},
      "encoding": {
        "x": {"field": "E", "type": "quantitative", "axis": null}, "y": {"field": "v", "type": "quantitative", "axis": null},
        "x2": {"field": "E2"}, "y2": {"field": "v2"}
      }
    },
    {
      "data": {"name": "aBlack"},
      "mark": {"type": "point", "shape": "M -0.42 0.9 L 0 0 L 0.42 0.9", "size": 2304, "angle": 215.7, "filled": false, "stroke": "#000000", "strokeWidth": 5, "opacity": 1},
      "encoding": {"x": {"field": "E2", "type": "quantitative", "axis": null}, "y": {"field": "v2", "type": "quantitative", "axis": null}}
    },
    {
      "data": {"name": "tBlue"},
      "mark": {"type": "text", "font": "Liberation Sans", "fontWeight": "bold", "fontSize": 31.5, "align": "left", "baseline": "alphabetic", "color": "#0000FF"},
      "encoding": {"x": {"field": "E", "type": "quantitative", "axis": null}, "y": {"field": "v", "type": "quantitative", "axis": null}, "text": {"field": "t"}}
    },
    {
      "data": {"name": "tBlack"},
      "mark": {"type": "text", "font": "Liberation Sans", "fontWeight": "bold", "fontSize": 31.5, "align": "left", "baseline": "alphabetic", "color": "#000000"},
      "encoding": {"x": {"field": "E", "type": "quantitative", "axis": null}, "y": {"field": "v", "type": "quantitative", "axis": null}, "text": {"field": "t"}}
    },
    {
      "data": {"name": "tMag"},
      "mark": {"type": "text", "font": "Liberation Sans", "fontWeight": "bold", "fontSize": 31.5, "align": "left", "baseline": "alphabetic", "color": "#FF00FF"},
      "encoding": {"x": {"field": "E", "type": "quantitative", "axis": null}, "y": {"field": "v", "type": "quantitative", "axis": null}, "text": {"field": "t"}}
    },
    {
      "data": {"name": "tRed"},
      "mark": {"type": "text", "font": "Liberation Sans", "fontWeight": "bold", "fontSize": 31.5, "align": "left", "baseline": "alphabetic", "color": "#FF0000"},
      "encoding": {"x": {"field": "E", "type": "quantitative", "axis": null}, "y": {"field": "v", "type": "quantitative", "axis": null}, "text": {"field": "t"}}
    },
    {
      "data": {"name": "tGreen"},
      "mark": {"type": "text", "font": "Liberation Sans", "fontWeight": "bold", "fontSize": 31.5, "align": "left", "baseline": "alphabetic", "color": "#008000"},
      "encoding": {"x": {"field": "E", "type": "quantitative", "axis": null}, "y": {"field": "v", "type": "quantitative", "axis": null}, "text": {"field": "t"}}
    }
  ]
}
